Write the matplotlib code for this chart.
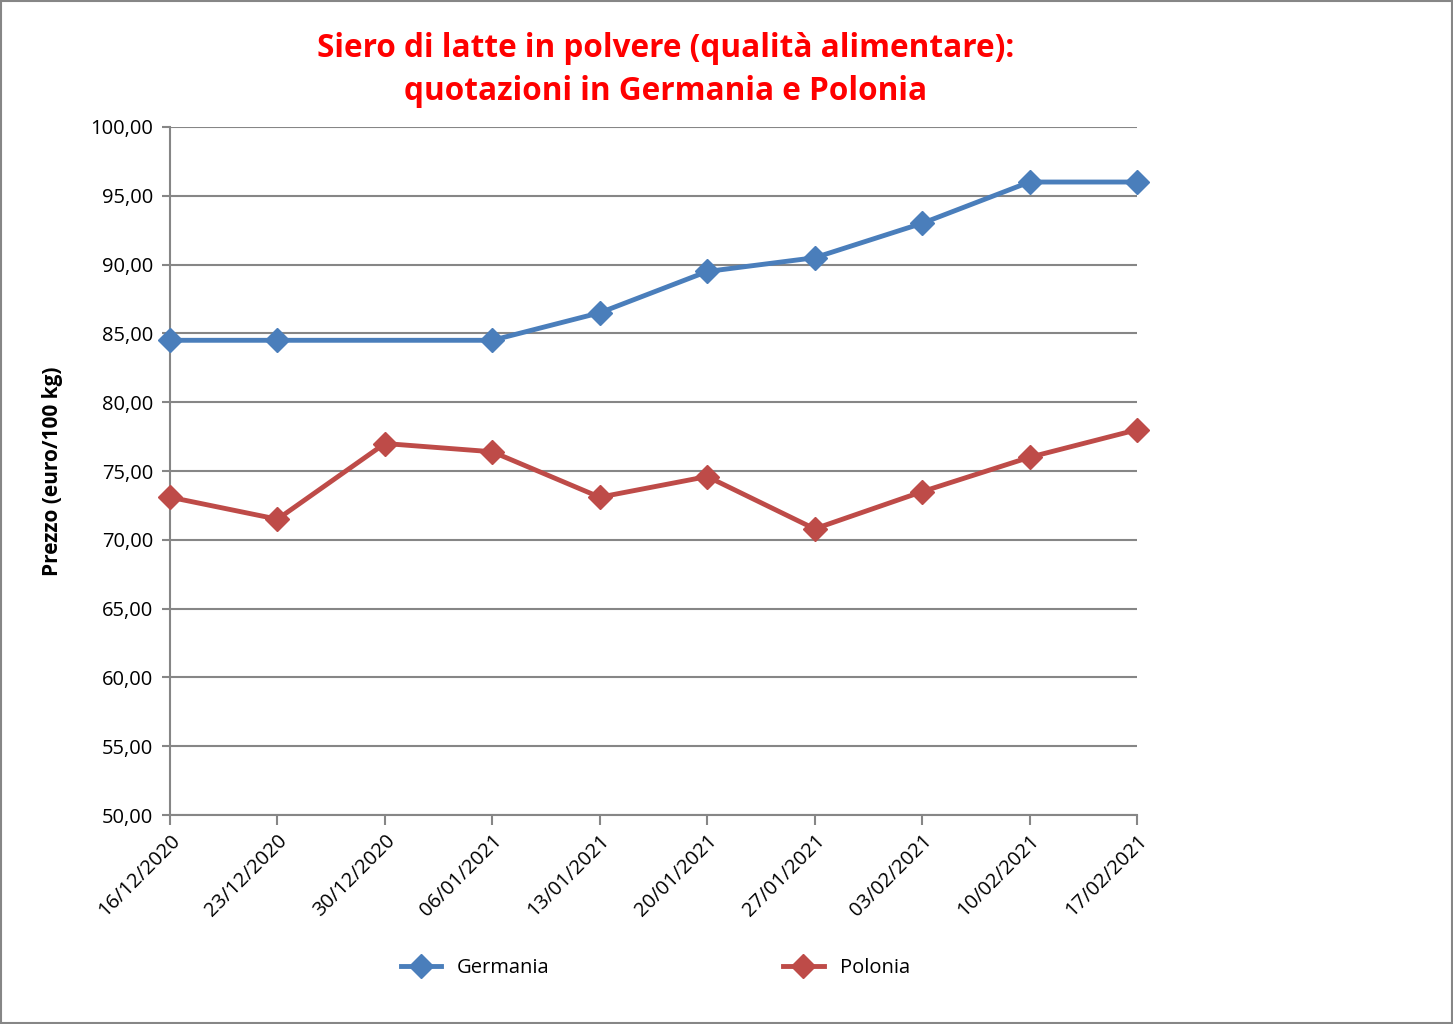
import matplotlib.pyplot as plt
import numpy as np
from matplotlib.ticker import FuncFormatter
from matplotlib.patches import Rectangle

plt.rcParams['font.family'] = ['Open Sans', 'DejaVu Sans']

dates = ["16/12/2020", "23/12/2020", "30/12/2020", "06/01/2021", "13/01/2021",
         "20/01/2021", "27/01/2021", "03/02/2021", "10/02/2021", "17/02/2021"]
# Germania has no quote for 30/12/2020
germania = [84.5, 84.5, None, 84.5, 86.5, 89.5, 90.5, 93.0, 96.0, 96.0]
polonia = [73.1, 71.5, 77.0, 76.4, 73.1, 74.6, 70.8, 73.5, 76.0, 78.0]

blue = '#4A7EBB'
red = '#BE4B48'
grey = '#868686'

fig = plt.figure(figsize=(14.53, 10.24), dpi=100)
ax = fig.add_axes([0.117, 0.204, 0.6655, 0.672])

x = np.arange(len(dates))
g_x = [i for i, v in zip(x, germania) if v is not None]
g_y = [v for v in germania if v is not None]

ax.plot(g_x, g_y, color=blue, lw=3.5, marker='D', ms=12, label='Germania', zorder=3, clip_on=False)
ax.plot(x, polonia, color=red, lw=3.5, marker='D', ms=12, label='Polonia', zorder=3, clip_on=False)

ax.set_xlim(0, len(dates) - 1)
ax.set_ylim(50, 100)
ax.set_yticks(np.arange(50, 101, 5))
ax.yaxis.set_major_formatter(FuncFormatter(lambda v, p: f"{v:.2f}".replace('.', ',')))
ax.set_xticks(x)
ax.set_xticklabels(dates, rotation=45, ha='right', rotation_mode='anchor', fontsize=14.5)
ax.tick_params(axis='y', labelsize=14.5, length=6, color=grey, width=1.5, pad=6)
ax.tick_params(axis='x', length=7, color=grey, width=1.5, pad=4)

ax.grid(axis='y', color=grey, lw=1.5)
ax.set_axisbelow(True)
for s in ['top', 'right']:
    ax.spines[s].set_visible(False)
for s in ['left', 'bottom']:
    ax.spines[s].set_color(grey)
    ax.spines[s].set_linewidth(1.5)

ax.set_ylabel('Prezzo (euro/100 kg)', fontsize=15, fontweight='bold', labelpad=20)

fig.text(0.458, 0.932, 'Siero di latte in polvere (qualità alimentare):\nquotazioni in Germania e Polonia',
         ha='center', va='center', color='red', fontsize=22.7, fontweight='bold', linespacing=1.4)

fig.legend(loc='center', bbox_to_anchor=(0.451, 0.055), ncol=2, frameon=False,
           fontsize=14.5, columnspacing=11.6, handlelength=2.0)

fig.add_artist(Rectangle((0.001, 0.001), 0.998, 0.998, transform=fig.transFigure,
                         fill=False, edgecolor=grey, lw=1.5))

fig.savefig('out.png', dpi=100)
